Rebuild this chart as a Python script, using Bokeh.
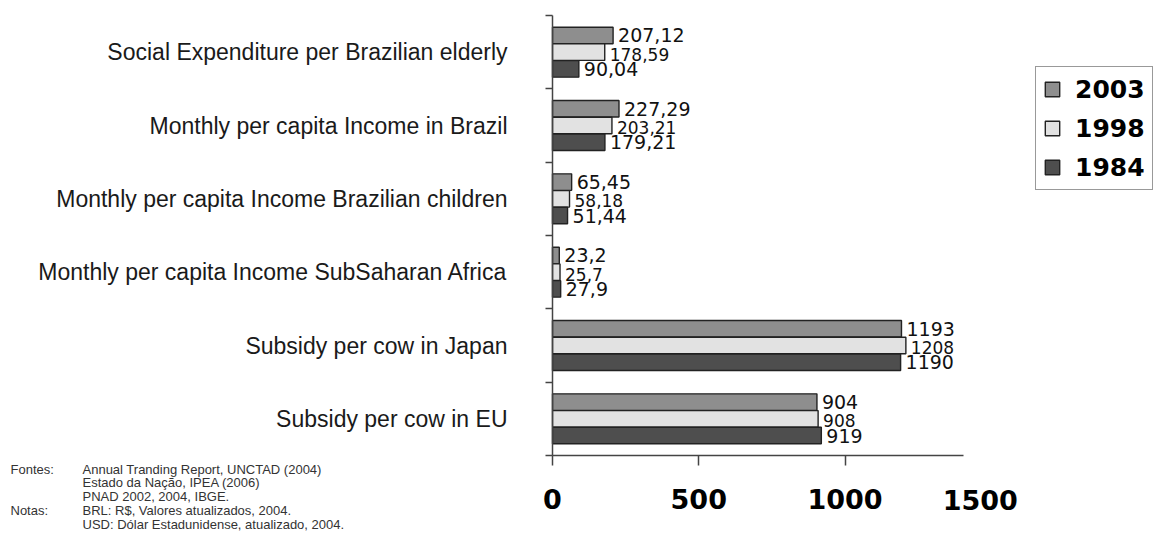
from bokeh.plotting import figure
from bokeh.models import ColumnDataSource, Range1d, FixedTicker, Legend, LegendItem, Label
from bokeh.core.properties import value
from bokeh.embed import file_html
from bokeh.resources import INLINE
import numpy as np

# ---------------- data ----------------
categories = [
    "Social Expenditure per Brazilian elderly",
    "Monthly per capita Income in Brazil",
    "Monthly per capita Income Brazilian children",
    "Monthly per capita Income SubSaharan Africa",
    "Subsidy per cow in Japan",
    "Subsidy per cow in EU",
]
years = ["2003", "1998", "1984"]
v2003 = [207.12, 227.29, 65.45, 23.2, 1193, 904]
v1998 = [178.59, 203.21, 58.18, 25.7, 1208, 908]
v1984 = [90.04, 179.21, 51.44, 27.9, 1190, 919]
x_ticks = [0, 500, 1000]
x_extra_tick = 1500
x_axis_max = 1405
fontes = ["Annual Tranding Report, UNCTAD (2004)",
          "Estado da Nação, IPEA (2006)",
          "PNAD 2002, 2004, IBGE."]
notas = ["BRL: R$, Valores atualizados, 2004.",
         "USD: Dólar Estadunidense, atualizado, 2004."]

colors = ["#8e8e8e", "#e2e2e2", "#4e4e4e"]
offsets = [0.228, 0.0, -0.228]
label_sizes = ["19px", "17px", "19px"]
label_dy = [0, 2, 0]


def fmt(v):
    return f"{v:g}".replace(".", ",")


n = len(categories)
centers = n - np.arange(n) - 0.5

# ---------------- layout (pixels) ----------------
W, H = 1155, 552
axis_left_px, axis_right_px = 552, 963
axis_top_px, axis_bottom_px = 15, 455
kx = (axis_right_px - axis_left_px) / x_axis_max
ky = (axis_bottom_px - axis_top_px) / n
x_range = Range1d(-axis_left_px / kx, (W - axis_left_px) / kx)
y_range = Range1d(-(H - axis_bottom_px) / ky, n + axis_top_px / ky)

p = figure(width=W, height=H, output_backend="svg", toolbar_location=None,
           title=None, x_range=x_range, y_range=y_range,
           min_border_left=0, min_border_right=0,
           min_border_top=0, min_border_bottom=0,
           background_fill_color="white", border_fill_color="white")
p.outline_line_color = None
p.xgrid.visible = False
p.ygrid.visible = False

renderers = []
sources = []
for vals, col, off in zip([v2003, v1998, v1984], colors, offsets):
    src = ColumnDataSource(dict(y=centers + off, x=vals, label=[fmt(v) for v in vals]))
    r = p.hbar(y="y", right="x", left=0, height=0.225, fill_color=col,
               line_color="#222222", line_width=1.4, source=src)
    renderers.append(r)
    sources.append(src)

for src, fs, dy in zip(sources, label_sizes, label_dy):
    p.text(x="x", y="y", text="label", x_offset=5, y_offset=dy,
           text_baseline="middle", text_align="left",
           text_font=value("DejaVu Sans"), text_font_size=fs,
           text_color="#111111", source=src)

# x axis
xa = p.xaxis[0]
xa.fixed_location = 0
xa.bounds = (0, x_axis_max)
xa.ticker = FixedTicker(ticks=x_ticks)
xa.major_tick_out = 10
xa.major_tick_in = 0
xa.minor_tick_out = 0
xa.minor_tick_in = 0
xa.axis_line_color = "#444444"
xa.axis_line_width = 1.5
xa.major_tick_line_color = "#444444"
xa.major_tick_line_width = 1.5
xa.major_label_standoff = 23
xa.major_label_text_font = "DejaVu Sans"
xa.major_label_text_font_style = "bold"
xa.major_label_text_font_size = "27px"
xa.major_label_text_color = "#000000"

p.add_layout(Label(x=x_extra_tick, y=H - 489, x_units="data", y_units="screen",
                   x_offset=-11,
                   text=str(x_extra_tick), text_align="center", text_baseline="top",
                   text_font="DejaVu Sans", text_font_style="bold",
                   text_font_size="27px", text_color="#000000"))

# y axis
ya = p.yaxis[0]
ya.fixed_location = 0
ya.bounds = (0, n)
ya.ticker = FixedTicker(ticks=[float(c) for c in centers],
                        minor_ticks=[float(i) for i in range(n + 1)])
ya.major_label_overrides = {float(c): cat for c, cat in zip(centers, categories)}
ya.major_tick_out = 0
ya.major_tick_in = 0
ya.minor_tick_out = 7
ya.minor_tick_in = 0
ya.minor_tick_line_color = "#444444"
ya.minor_tick_line_width = 1.5
ya.axis_line_color = "#444444"
ya.axis_line_width = 1.5
ya.major_label_standoff = 38
ya.major_label_text_font = "Liberation Sans"
ya.major_label_text_font_size = "23px"
ya.major_label_text_color = "#1a1a1a"

# legend
legend = Legend(items=[LegendItem(label=y, renderers=[r]) for y, r in zip(years, renderers)],
                location=(1035, H - 190))
legend.border_line_color = "#333333"
legend.border_line_width = 1.5
legend.label_text_font = "DejaVu Sans"
legend.label_text_font_style = "bold"
legend.label_text_font_size = "25px"
legend.label_text_color = "#000000"
legend.glyph_width = 18
legend.glyph_height = 18
legend.label_height = 30
legend.spacing = 9
legend.padding = 7
legend.label_standoff = 14
legend.margin = 0
p.add_layout(legend)

# footnotes
foot_font = "Liberation Sans"
p.add_layout(Label(x=10, y=H - 461, x_units="screen", y_units="screen",
                   text="Fontes:\n\n\nNotas:", text_baseline="top", text_align="left",
                   text_font=foot_font, text_font_size="13px", text_line_height=0.92,
                   text_color="#333333"))
p.add_layout(Label(x=82, y=H - 461, x_units="screen", y_units="screen",
                   text="\n".join(fontes + notas), text_baseline="top", text_align="left",
                   text_font=foot_font, text_font_size="13px", text_line_height=0.92,
                   text_color="#333333"))

open("out.html", "w").write(file_html(p, INLINE))
